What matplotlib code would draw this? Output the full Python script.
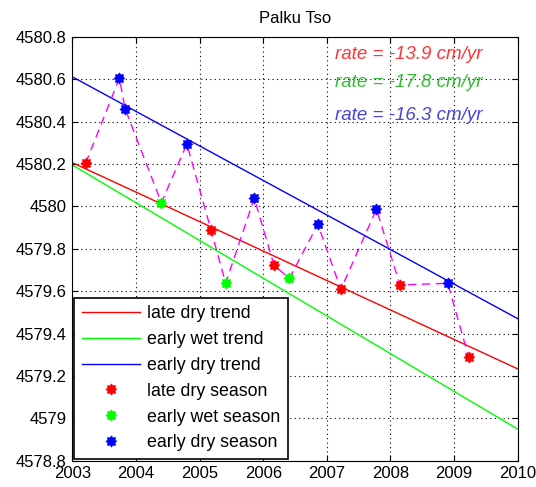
import matplotlib
matplotlib.use("Agg")
import matplotlib.pyplot as plt
import numpy as np

plt.rcParams["font.family"] = ["Liberation Sans", "DejaVu Sans"]
plt.rcParams["font.size"] = 12

# lake level observations in time order (decimal year, elevation in m)
obs_year = [2003.21, 2003.74, 2003.83, 2004.40, 2004.80, 2005.18, 2005.41, 2005.86,
            2006.17, 2006.41, 2006.86, 2007.22, 2007.78, 2008.15, 2008.90, 2009.23]
obs_level = [4580.203, 4580.604, 4580.460, 4580.017, 4580.294, 4579.888, 4579.637, 4580.038,
             4579.722, 4579.660, 4579.915, 4579.608, 4579.986, 4579.629, 4579.637, 4579.288]
obs_season = ["late dry", "early dry", "early dry", "early wet", "early dry", "late dry",
              "early wet", "early dry", "late dry", "early wet", "early dry", "late dry",
              "early dry", "late dry", "early dry", "late dry"]

seasons = ["late dry", "early wet", "early dry"]
season_colors = {"late dry": "#ff0000", "early wet": "#00ff00", "early dry": "#0000ff"}
text_colors = {"late dry": "#ff3333", "early wet": "#33bb33", "early dry": "#4444dd"}

# linear trends: level at 2003.0 and rate in cm/yr
trend_start = {"late dry": 4580.206, "early wet": 4580.195, "early dry": 4580.611}
trend_rate = {"late dry": -13.9, "early wet": -17.8, "early dry": -16.3}
rate_text_y = {"late dry": 4580.714, "early wet": 4580.582, "early dry": 4580.43}

# blobby 8-point star, like a thick asterisk
ang = np.arange(16) * np.pi / 8
rad = np.where(np.arange(16) % 2 == 0, 1.0, 0.7)
blob = list(zip(rad * np.cos(ang), rad * np.sin(ang)))

fig = plt.figure(figsize=(5.36, 4.87), dpi=100)
ax = fig.add_axes([0.1349, 0.054, 0.8310, 0.8706])

yr = np.array([2003.0, 2010.0])
for s in seasons:
    ax.plot(yr, trend_start[s] + trend_rate[s] / 100.0 * (yr - 2003.0),
            color=season_colors[s], lw=1.0, label=s + " trend")

ax.plot(obs_year, obs_level, color="#ff00ff", ls=(0, (6, 4)), lw=1.0)

obs_year = np.array(obs_year)
obs_level = np.array(obs_level)
obs_season = np.array(obs_season)
for s in seasons:
    m = obs_season == s
    ax.plot(obs_year[m], obs_level[m], ls="none", marker=blob, ms=8,
            color=season_colors[s], mec=season_colors[s], mew=0.5,
            label=s + " season", zorder=3)

for s in seasons:
    ax.text(2007.13, rate_text_y[s], "rate = %.1f cm/yr" % trend_rate[s],
            color=text_colors[s], style="italic", fontsize=13.5, va="center", ha="left")

ax.set_xlim(2003, 2010)
ax.set_ylim(4578.8, 4580.8)
ax.set_xticks(np.arange(2003, 2011))
ax.set_yticks(np.arange(4578.8, 4580.81, 0.2))
ax.set_yticklabels(["4578.8", "4579", "4579.2", "4579.4", "4579.6", "4579.8",
                    "4580", "4580.2", "4580.4", "4580.6", "4580.8"])
ax.grid(True, color="black", ls=(0, (1, 3)), lw=0.8)
ax.tick_params(direction="in", length=4, top=True, right=True, pad=4)
ax.set_title("Palku Tso", fontsize=12, pad=10)

leg = ax.legend(loc="lower left", borderaxespad=0.12, handlelength=3.3,
                handletextpad=0.4, labelspacing=0.5, fancybox=False,
                edgecolor="black", framealpha=1.0, borderpad=0.4,
                prop={"size": 12.8})
leg.get_frame().set_linewidth(1.2)

fig.savefig("out.png", dpi=100)
